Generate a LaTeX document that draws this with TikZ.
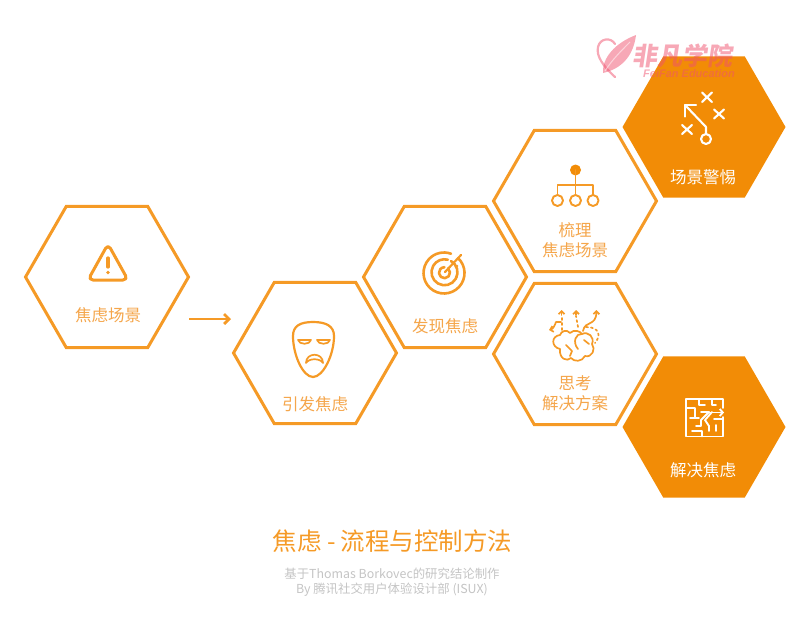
\documentclass[tikz,border=0pt]{standalone}
\usepackage{fontspec}
\setmainfont{Noto Sans CJK SC}
\newfontfamily\logofont{Liberation Sans}
\definecolor{hexorange}{HTML}{F28C06}
\definecolor{lineorange}{HTML}{F59A26}
\definecolor{labelorange}{HTML}{F5A64B}
\definecolor{notegray}{HTML}{C4C4C4}
\definecolor{logopink}{HTML}{F0526E}
\usetikzlibrary{shapes.geometric, arrows.meta}
\tikzset{
	hexbase/.style = {regular polygon, regular polygon sides = 6, minimum size = 163pt, inner sep = 0pt, outer sep = 0pt},
	hexline/.style = {hexbase, draw = lineorange, line width = 3pt, fill = white},
	hexfull/.style = {hexbase, fill = hexorange},
	hexlabel/.style = {text = labelorange, font = \fontsize{16.5}{20}\selectfont, align = center},
	fulllabel/.style = {text = white, font = \fontsize{16.5}{20}\selectfont, align = center},
	icon/.style = {draw = lineorange, line width = 2.2pt, line cap = round, line join = round},
	whiteicon/.style = {draw = white, line width = 2.1pt, line cap = round, line join = round}
}
\begin{document}
\begin{tikzpicture}[x = 1pt, y = -1pt]
	\useasboundingbox (0,0) rectangle (800,634);
	% hexagons
	\node[hexline] (scene) at (107,277) {};
	\node[hexline] (trigger) at (315,353) {};
	\node[hexline] (notice) at (445,277) {};
	\node[hexline] (sort) at (575,201) {};
	\node[hexline] (think) at (575,354) {};
	\node[hexfull] (alert) at (704,127) {};
	\node[hexfull] (solve) at (704,427) {};
	% labels
	\node[hexlabel] (scenetext) at (108,315) {焦虑场景};
	\node[hexlabel] (triggertext) at (315,404) {引发焦虑};
	\node[hexlabel] (noticetext) at (445,326) {发现焦虑};
	\node[hexlabel] (sorttext) at (575,240) {梳理\\焦虑场景};
	\node[hexlabel] (thinktext) at (575,393) {思考\\解决方案};
	\node[fulllabel] (alerttext) at (703,177) {场景警惕};
	\node[fulllabel] (solvetext) at (703,470) {解决焦虑};
	% arrow
	\coordinate (arrowstart) at (189,319);
	\coordinate (arrowend) at (231,319);
	\draw[lineorange, line width = 2.8pt, -{Straight Barb[length = 5pt, width = 10pt]}] (arrowstart) -- (arrowend);
	% warning icon
	\draw[icon, line width = 3pt, rounded corners = 5pt] (108,244) -- (128,280) -- (88,280) -- cycle;
	\draw[icon, line width = 3.2pt] (108,258) -- (108,267); %bar
	\fill[lineorange] (108,272.5) circle (1.9);
	% mask icon
	\draw[icon] (313,322) .. controls (300,322) and (293,326) .. (293,336) .. controls (293,355) and (303,377) .. (313,377) .. controls (323,377) and (334,355) .. (334,336) .. controls (334,326) and (326,322) .. (313,322) -- cycle;
	\draw[icon, line width = 1.7pt] (298,340) -- (311,340) .. controls (310,345) and (299,345) .. (298,340) -- cycle;
	\draw[icon, line width = 1.7pt] (317,340) -- (330,340) .. controls (329,345) and (318,345) .. (317,340) -- cycle;
	\draw[icon, line width = 1.7pt] (306,363) .. controls (306,352) and (323,352) .. (323,363) .. controls (320,358) and (309,358) .. (306,363) -- cycle;
	% target icon
	\draw[icon, line width = 2.6pt] (458,258) arc (-47:290:20.5);
	\draw[icon, line width = 2.6pt] (451,261) arc (-60:285:13);
	\draw[icon, line width = 2.6pt] (448,268.5) arc (-50:270:5.5);
	\draw[icon] (445,272) -- (461,255);
	\draw[icon] (457,270) -- (457,277);
	\fill[lineorange] (457,266) circle (1.3);
	% tree icon
	\fill[hexorange] (575.5,170) circle (5.5);
	\draw[icon, line width = 1.8pt] (575.5,170) -- (575.5,195);
	\draw[icon, line width = 1.8pt] (557.5,195) -- (557.5,185) -- (593,185) -- (593,195);
	\draw[icon, line width = 1.9pt] (557.5,200.5) circle (5.5) (575.5,200.5) circle (5.5) (593,200.5) circle (5.5);
	% brain icon
	\draw[icon, line width = 1.7pt] (560,349) .. controls (551,347) and (551,336) .. (560,335) .. controls (561,331) and (567,329) .. (570,333) .. controls (574,329) and (580,331) .. (582,334) .. controls (588,331) and (595,337) .. (592,344) .. controls (596,349) and (592,358) .. (585,356) .. controls (582,362) and (574,362) .. (571,358) .. controls (567,362) and (559,359) .. (560,349) -- cycle;
	\draw[icon, line width = 1.7pt] (578,349) .. controls (572,342) and (576,333) .. (582,334);
	\draw[icon, line width = 1.7pt] (566,345) -- (572,351) -- (570,356);
	\draw[icon, line width = 1.7pt] (584,340) -- (589,344);
	\draw[icon, line width = 1.7pt, -{Straight Barb[length = 3pt, width = 6pt]}] (583,331) .. controls (585,320) and (596,327) .. (596.5,310);
	\draw[icon, line width = 1.7pt, dash pattern = on 2pt off 3pt] (562,330) -- (562,318);
	\draw[icon, line width = 1.7pt, -{Straight Barb[length = 3pt, width = 6pt]}] (561.5,315) -- (561.5,310);
	\draw[icon, line width = 1.7pt, dash pattern = on 2pt off 3pt] (578,327) -- (576,316);
	\draw[icon, line width = 1.7pt, -{Straight Barb[length = 3pt, width = 6pt]}] (576,315) -- (576,310);
	\draw[icon, line width = 1.7pt, -{Straight Barb[length = 3pt, width = 6pt]}] (561,322) -- (556,322) .. controls (555,325) and (553,329) .. (549,330);
	\draw[icon, line width = 1.7pt, dash pattern = on 2pt off 3pt] (586,327) .. controls (600,327) and (601,336) .. (595,343);
	% play icon
	\draw[whiteicon] (706,139) circle (5);
	\draw[whiteicon] (706,134) -- (706,127) -- (685,105);
	\draw[whiteicon] (696,105) -- (685,105) -- (685,116.5);
	\draw[whiteicon] (702,92.5) -- (712,102) (712,92.5) -- (702,102);
	\draw[whiteicon] (714,109.5) -- (724,118.5) (724,109.5) -- (714,118.5);
	\draw[whiteicon] (682,125) -- (692,134) (692,125) -- (682,134);
	% maze icon
	\draw[whiteicon, line width = 1.9pt] (723,408) -- (723,399) -- (686,399) -- (686,436.5) -- (723,436.5) -- (723,417);
	\draw[whiteicon, line width = 1.9pt] (686,408) -- (695,408) -- (695,418) (690,418) -- (699,418);
	\draw[whiteicon, line width = 1.9pt] (699,399) -- (699,405) -- (705,405) (712,399) -- (712,405) -- (716,405);
	\draw[whiteicon, line width = 1.9pt] (701,412) -- (709,412) -- (701,420) -- (701,426) -- (696,426);
	\draw[whiteicon, line width = 1.9pt] (712,412) -- (705,420) -- (709,426) -- (709,431) (714,419) -- (723,419) (716,425) -- (716,431);
	\draw[whiteicon, line width = 1.9pt] (692,431) -- (702,431) -- (702,436.5);
	\draw[whiteicon, line width = 1.9pt, -{Straight Barb[length = 3pt, width = 7pt]}] (709,412.5) -- (724,412.5);
	% titles
	\node[text = lineorange, font = \fontsize{24.5}{28}\selectfont] (title) at (392.5,541) {焦虑 - 流程与控制方法};
	\node[text = notegray, font = \fontsize{12.4}{15}\selectfont, align = center] (note) at (392,582) {基于Thomas Borkovec的研究结论制作\\By 腾讯社交用户体验设计部 (ISUX)};
	% logo
	\begin{scope}[opacity = .5]
		\draw[logopink, line width = 2.2pt, line cap = round] (615,77) .. controls (603,66) and (596,56) .. (598,47) .. controls (600,38) and (611,37) .. (615,44);
		\fill[logopink] (603,73) .. controls (602,58) and (615,43) .. (636,35) .. controls (634,52) and (625,68) .. (603,73) -- cycle;
		\draw[white, line width = 1pt] (605,71) .. controls (612,60) and (620,52) .. (630,42);
		\node[text = logopink, font = \fontsize{25}{26}\bfseries\selectfont, inner sep = 0pt, xslant = .15, transform shape] (logotext) at (684,55.5) {非凡学院};
		\node[text = logopink, font = \logofont\fontsize{11}{12}\bfseries\itshape\selectfont, inner sep = 0pt] (logosub) at (689,73.5) {FeiFan Education};
	\end{scope}
\end{tikzpicture}
\end{document}
